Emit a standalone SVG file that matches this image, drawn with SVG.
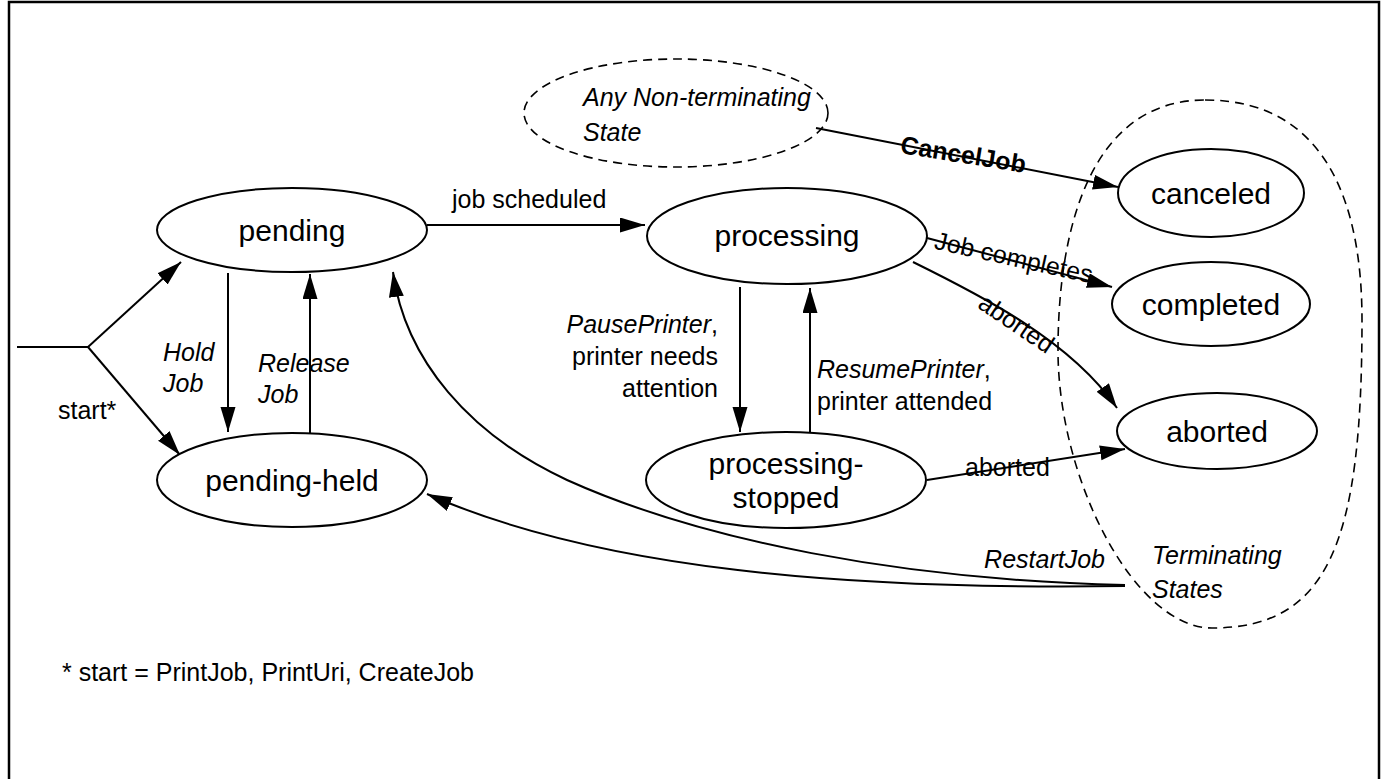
<svg xmlns="http://www.w3.org/2000/svg" width="1386" height="779" viewBox="0 0 1386 779">
<style>
  .frame{fill:#fff;stroke:#000;stroke-width:2.5}
  .node ellipse{fill:#fff;stroke:#000;stroke-width:2}
  .dash{fill:none;stroke:#000;stroke-width:1.6;stroke-dasharray:9 6}
  text{font-family:"Liberation Sans",Arial,Helvetica,sans-serif;fill:#000}
  .nt{font-size:30px;text-anchor:middle}
  .lb{font-size:25px}
  .it{font-style:italic}
  .end{text-anchor:end}
  .mid{text-anchor:middle}
  .bold{font-weight:bold}
  .edge{fill:none;stroke:#000;stroke-width:2}
  .arr{marker-end:url(#ah)}
</style>
<defs>
  <marker id="ah" markerUnits="userSpaceOnUse" markerWidth="26" markerHeight="16" refX="25" refY="7.5" orient="auto">
    <path d="M0,0 L25,7.5 L0,15 z" fill="#000"/>
  </marker>
</defs>
<rect class="frame" x="9" y="2" width="1370" height="800"/>

<g id="any-nonterminating">
  <ellipse class="dash" cx="676" cy="113" rx="152" ry="54"/>
  <text class="lb it" x="583" y="106" font-size="25.5">Any Non-terminating</text>
  <text class="lb it" x="583" y="141" font-size="25.5">State</text>
</g>
<g id="terminating-states">
  <path class="dash" d="M1205 100 C1330 100 1362 210 1362 320 C1362 540 1330 628 1212 628 C1135 628 1058 480 1058 350 C1058 230 1090 100 1205 100 Z"/>
  <text class="lb it" x="1152" y="564">Terminating</text>
  <text class="lb it" x="1152" y="598">States</text>
</g>

<g id="connectors">
  <path class="edge" d="M17 347 L88 347"/>
  <path class="edge arr" d="M88 347 L181 262"/>
  <path class="edge arr" d="M88 347 L180 455"/>
  <path class="edge arr" d="M228 273 L228 432"/>
  <path class="edge arr" d="M310 433 L310 274"/>
  <path class="edge arr" d="M427 225 L645 225"/>
  <path class="edge arr" d="M740 287 L740 432"/>
  <path class="edge arr" d="M810 433 L810 288"/>
  <path class="edge arr" d="M816 128 L1118 187"/>
  <path class="edge arr" d="M927 238 L1112 287"/>
  <path class="edge arr" d="M913 262 C980 295 1070 340 1117 408"/>
  <path class="edge arr" d="M927 480 L1125 449"/>
  <path class="edge arr" d="M1125 585 C900 580 700 540 567 480 C470 435 405 360 393 272"/>
  <path class="edge arr" d="M1125 586 C850 590 600 570 427 494"/>

  <text class="lb" x="58" y="419" font-size="22.5">start*</text>
  <text class="lb it" x="163" y="361">Hold</text>
  <text class="lb it" x="163" y="392">Job</text>
  <text class="lb it" x="258" y="372">Release</text>
  <text class="lb it" x="258" y="403">Job</text>
  <text class="lb" x="452" y="208">job scheduled</text>
  <text class="lb end" x="718" y="333"><tspan class="it">PausePrinter</tspan>,</text>
  <text class="lb end" x="718" y="365">printer needs</text>
  <text class="lb end" x="718" y="397">attention</text>
  <text class="lb" x="817" y="378"><tspan class="it">ResumePrinter</tspan>,</text>
  <text class="lb" x="817" y="410">printer attended</text>
  <text class="lb bold mid" transform="translate(963 157) rotate(9)" x="0" y="6" font-size="24">CancelJob</text>
  <text class="lb mid" transform="translate(1013 261) rotate(12.5)" x="0" y="5">Job completes</text>
  <text class="lb mid" transform="translate(1016 324) rotate(34)" x="0" y="8">aborted</text>
  <text class="lb" x="965" y="476">aborted</text>
  <text class="lb it end" x="1105" y="568">RestartJob</text>
</g>

<g id="pending" class="node">
  <ellipse cx="292" cy="230" rx="135" ry="42"/>
  <text class="nt" x="292" y="241">pending</text>
</g>
<g id="pending-held" class="node">
  <ellipse cx="292" cy="480" rx="135" ry="47"/>
  <text class="nt" x="292" y="491">pending-held</text>
</g>
<g id="processing" class="node">
  <ellipse cx="787" cy="236" rx="140" ry="48"/>
  <text class="nt" x="787" y="246">processing</text>
</g>
<g id="processing-stopped" class="node">
  <ellipse cx="786" cy="480" rx="140" ry="48"/>
  <text class="nt" x="786" y="474">processing-</text>
  <text class="nt" x="786" y="508">stopped</text>
</g>
<g id="canceled" class="node">
  <ellipse cx="1211" cy="193" rx="93" ry="44"/>
  <text class="nt" x="1211" y="204">canceled</text>
</g>
<g id="completed" class="node">
  <ellipse cx="1211" cy="304" rx="99" ry="42"/>
  <text class="nt" x="1211" y="315">completed</text>
</g>
<g id="aborted" class="node">
  <ellipse cx="1217" cy="431" rx="100" ry="38"/>
  <text class="nt" x="1217" y="442">aborted</text>
</g>

<text class="lb" x="62" y="681" font-size="22.5">* start = PrintJob, PrintUri, CreateJob</text>
</svg>
